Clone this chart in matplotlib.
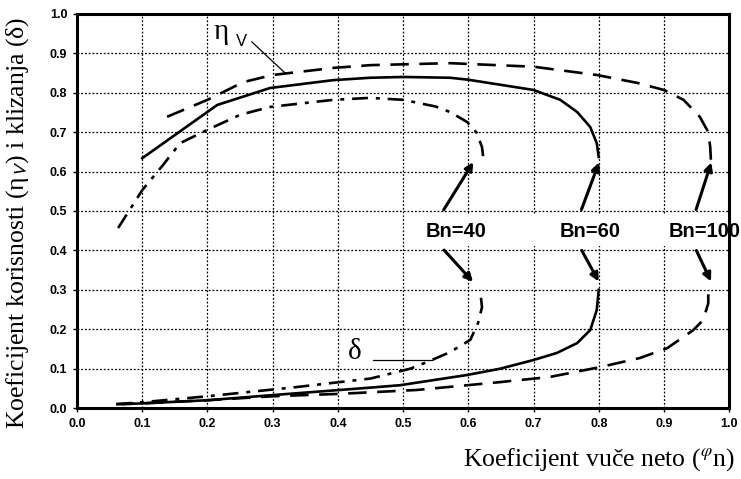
import matplotlib
matplotlib.use("Agg")
import matplotlib.pyplot as plt
from matplotlib.patches import Rectangle

plt.rcParams.update({
    "font.family": "Liberation Sans",
    "mathtext.fontset": "stix",
})

# Efficiency curves (eta_V) per Bn
eff40_x = [0.063, 0.10, 0.132, 0.158, 0.20, 0.25, 0.296, 0.393, 0.45, 0.50, 0.55, 0.572, 0.598, 0.613, 0.621, 0.623, 0.622]
eff40_y = [0.457, 0.553, 0.617, 0.672, 0.706, 0.744, 0.764, 0.782, 0.787, 0.782, 0.765, 0.751, 0.726, 0.698, 0.662, 0.635, 0.62]

eff60_x = [0.10, 0.215, 0.296, 0.393, 0.45, 0.50, 0.572, 0.60, 0.70, 0.741, 0.767, 0.787, 0.797, 0.80]
eff60_y = [0.634, 0.769, 0.812, 0.832, 0.838, 0.84, 0.838, 0.833, 0.807, 0.782, 0.751, 0.713, 0.672, 0.637]

eff100_x = [0.138, 0.20, 0.255, 0.30, 0.393, 0.45, 0.572, 0.70, 0.797, 0.859, 0.90, 0.93, 0.955, 0.968, 0.971, 0.972]
eff100_y = [0.739, 0.782, 0.827, 0.845, 0.863, 0.87, 0.875, 0.866, 0.845, 0.825, 0.807, 0.782, 0.739, 0.70, 0.662, 0.63]

# Slip curves (delta) per Bn
slip40_x = [0.06, 0.10, 0.20, 0.34, 0.45, 0.511, 0.537, 0.572, 0.603, 0.615, 0.621, 0.618]
slip40_y = [0.01, 0.015, 0.03, 0.054, 0.075, 0.10, 0.117, 0.142, 0.173, 0.216, 0.256, 0.30]

slip60_x = [0.07, 0.10, 0.20, 0.30, 0.45, 0.495, 0.598, 0.649, 0.70, 0.736, 0.767, 0.787, 0.797, 0.80]
slip60_y = [0.01, 0.012, 0.02, 0.033, 0.052, 0.058, 0.084, 0.10, 0.122, 0.14, 0.165, 0.198, 0.249, 0.30]

slip100_x = [0.06, 0.10, 0.20, 0.30, 0.40, 0.521, 0.598, 0.649, 0.725, 0.802, 0.863, 0.905, 0.945, 0.96, 0.968, 0.968]
slip100_y = [0.01, 0.012, 0.02, 0.03, 0.036, 0.046, 0.058, 0.066, 0.079, 0.104, 0.127, 0.152, 0.198, 0.223, 0.266, 0.30]

labels = ["Bn=40", "Bn=60", "Bn=100"]
label_x = [0.581, 0.787, 0.962]
arrow_tip_x = [0.61, 0.802, 0.974]
arrow_tail_x = [0.56, 0.772, 0.948]

fig = plt.figure(figsize=(7.41, 4.79), dpi=100)
ax = fig.add_axes([0.104, 0.148, 0.88, 0.823])

lw = 1.9
ax.plot(eff100_x, eff100_y, color="black", lw=lw, dashes=(7, 4))
ax.plot(slip100_x, slip100_y, color="black", lw=lw, dashes=(7, 4))
ax.plot(eff60_x, eff60_y, color="black", lw=lw)
ax.plot(slip60_x, slip60_y, color="black", lw=lw)
ax.plot(eff40_x, eff40_y, color="black", lw=lw, dashes=(6, 3, 1.5, 3))
ax.plot(slip40_x, slip40_y, color="black", lw=lw, dashes=(6, 3, 1.5, 3))

# white label band hiding the grid behind the Bn labels
ax.add_patch(Rectangle((0.53, 0.41), 0.47, 0.082, facecolor="white", edgecolor="none", zorder=2.5))

for lab, lx, tip, tail in zip(labels, label_x, arrow_tip_x, arrow_tail_x):
    ax.text(lx, 0.447, lab, ha="center", va="center", fontsize=14.5, fontweight="bold", zorder=4)
    ax.annotate("", xy=(tip, 0.63), xytext=(tail, 0.497),
                arrowprops=dict(arrowstyle="-|>", color="black", lw=2.2, mutation_scale=12))
    ax.annotate("", xy=(tip, 0.315), xytext=(tail, 0.406),
                arrowprops=dict(arrowstyle="-|>", color="black", lw=2.2, mutation_scale=12))

# Curve labels
ax.text(0.21, 0.955, "η", fontsize=21, ha="left", va="center", family="Liberation Serif")
ax.text(0.243, 0.93, "V", fontsize=12, ha="left", va="center")
ax.plot([0.268, 0.319], [0.929, 0.85], color="black", lw=0.9)
ax.text(0.426, 0.142, "δ", fontsize=21, ha="center", va="center", family="Liberation Serif")
ax.plot([0.454, 0.545], [0.122, 0.122], color="black", lw=0.9)

ax.set_xlim(0, 1.0)
ax.set_ylim(0, 1.0)
ticks = [i / 10 for i in range(11)]
ax.set_xticks(ticks)
ax.set_yticks(ticks)
ax.set_xticklabels([f"{t:.1f}" for t in ticks], fontsize=9, fontweight="bold")
ax.set_yticklabels([f"{t:.1f}" for t in ticks], fontsize=9, fontweight="bold")
ax.tick_params(length=3, width=1, pad=4)
ax.grid(True, color="black", linestyle=(0, (1.5, 1.5)), linewidth=0.9)

for s in ax.spines.values():
    s.set_linewidth(2.2)

fig.text(0.024, 0.535, r"Koeficijent korisnosti (η$_{\mathsf{V}}$) i klizanja (δ)",
         rotation=90, ha="center", va="center", fontsize=18.5, family="Liberation Serif")
fig.text(0.991, 0.04, r"Koeficijent vuče neto (${}^{\varphi}$n)",
         ha="right", va="center", fontsize=18.5, family="Liberation Serif")

fig.savefig("out.png", dpi=100)
